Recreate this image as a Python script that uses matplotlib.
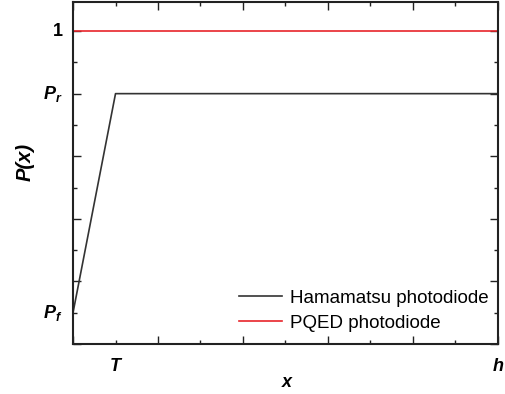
import matplotlib
matplotlib.use("Agg")
import matplotlib.pyplot as plt
from matplotlib.ticker import MultipleLocator

plt.rcParams['font.family'] = ['Liberation Sans', 'DejaVu Sans']
plt.rcParams['mathtext.fontset'] = 'custom'
plt.rcParams['mathtext.it'] = 'Liberation Sans:bold:italic'
plt.rcParams['mathtext.rm'] = 'Liberation Sans:bold'
plt.rcParams['mathtext.bf'] = 'Liberation Sans:bold'

# data
ham_x = [0, 1, 10]
ham_y = [0.1, 0.8, 0.8]
pqed_x = [0, 10]
pqed_y = [1.0, 1.0]
xtick_pos = [1, 10]
xtick_labels = ['T', 'h']
ytick_pos = [0.1, 0.8]
ytick_labels = [r'$P_f$', r'$P_r$']

fig = plt.figure(figsize=(5.05, 3.94), dpi=100)
ax = fig.add_axes([0.1446, 0.127, 0.8414, 0.868])

ax.plot(ham_x, ham_y, color='#333333', lw=1.2, label='Hamamatsu photodiode')
ax.plot(pqed_x, pqed_y, color='#e8242a', lw=1.2, label='PQED photodiode')

ax.set_xlim(0, 10)
ax.set_ylim(0, 1.093)

ax.xaxis.set_major_locator(MultipleLocator(2))
ax.xaxis.set_minor_locator(MultipleLocator(1))
ax.yaxis.set_major_locator(MultipleLocator(0.2))
ax.yaxis.set_minor_locator(MultipleLocator(0.1))
ax.tick_params(which='both', direction='in', top=True, right=True,
               labelbottom=False, labelleft=False, width=1.0, color='#222222')
ax.tick_params(which='major', length=5.5)
ax.tick_params(which='minor', length=3)

for s in ax.spines.values():
    s.set_linewidth(1.5)
    s.set_color('#222222')

trans_x = ax.get_xaxis_transform()
for p, lab in zip(xtick_pos, xtick_labels):
    ax.text(p, -0.04, lab, transform=trans_x, ha='center', va='top',
            fontsize=13, fontweight='bold', fontstyle='italic')
trans_y = ax.get_yaxis_transform()
for p, lab in zip(ytick_pos, ytick_labels):
    ax.text(-0.025, p, lab, transform=trans_y, ha='right', va='center',
            fontsize=13)
ax.text(-0.025, 1.0, '1', transform=trans_y, ha='right', va='center',
        fontsize=13, fontweight='bold')

ax.set_xlabel('x', fontsize=13, fontweight='bold', fontstyle='italic',
              va='center')
ax.xaxis.set_label_coords(0.504, -0.114)
ax.set_ylabel('P(x)', fontsize=14.5, fontweight='bold', fontstyle='italic',
              va='center')
ax.yaxis.set_label_coords(-0.113, 0.532)

ax.legend(loc='lower right', frameon=False, fontsize=13.5, handlelength=2.3,
          handletextpad=0.4, labelspacing=0.4, bbox_to_anchor=(1.017, -0.013))

fig.savefig('out.png', dpi=100)
